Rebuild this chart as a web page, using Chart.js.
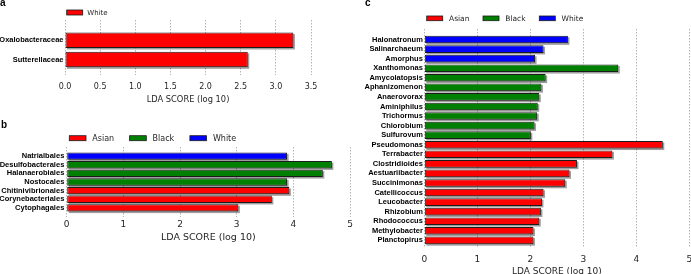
<!DOCTYPE html>
<html>
<head>
<meta charset="utf-8">
<script src="https://cdn.jsdelivr.net/npm/chart.js@4.4.1/dist/chart.umd.min.js"></script>
<style>
  html, body { margin: 0; padding: 0; background: #fff; }
  body { position: relative; width: 691px; height: 274px; overflow: hidden; }
  canvas { position: absolute; }
  .tag { position: absolute; font: bold 10px 'Liberation Sans', Arial, sans-serif; line-height: 10px; color: #000; }
</style>
</head>
<body>
<canvas id="chartA" width="345" height="110" style="left:0;top:0"></canvas>
<canvas id="chartB" width="360" height="140" style="left:0;top:110px"></canvas>
<canvas id="chartC" width="360" height="285" style="left:345px;top:0"></canvas>
<div class="tag" style="left:0px;top:-2px">a</div>
<div class="tag" style="left:1px;top:120px">b</div>
<div class="tag" style="left:365px;top:-2px">c</div>
<script>
// LEfSe-style LDA score bars, three panels.

const GROUPS = ['Asian', 'Black', 'White'];
const GROUP_COLOR = { Asian: '#ff0000', Black: '#008000', White: '#0000ff' };

// panel a (single class, drawn red, legend reads "White")
const aNames = ['Oxalobacteraceae', 'Sutterellaceae'];
const aScores = [3.25, 2.60];
const aLabel = 'White';
const aColor = '#ff0000';
const aTicks = [0, 0.5, 1, 1.5, 2, 2.5, 3, 3.5];

// panel b (orders)
const bNames = ['Natrialbales', 'Desulfobacterales', 'Halanaerobiales', 'Nostocales',
  'Chitinivibrionales', 'Corynebacteriales', 'Cytophagales'];
const bScores = [3.89, 4.68, 4.52, 3.89, 3.93, 3.62, 3.03];
const bGroups = ['White', 'Black', 'Black', 'Black', 'Asian', 'Asian', 'Asian'];
const bTicks = [0, 1, 2, 3, 4, 5];

// panel c (genera)
const cNames = ['Halonatronum', 'Salinarchaeum', 'Amorphus', 'Xanthomonas', 'Amycolatopsis',
  'Aphanizomenon', 'Anaerovorax', 'Aminiphilus', 'Trichormus', 'Chlorobium', 'Sulfurovum',
  'Pseudomonas', 'Terrabacter', 'Clostridioides', 'Aestuariibacter', 'Succinimonas',
  'Catellicoccus', 'Leucobacter', 'Rhizobium', 'Rhodococcus', 'Methylobacter', 'Planctopirus'];
const cScores = [2.71, 2.25, 2.09, 3.66, 2.29, 2.21, 2.17, 2.14, 2.13, 2.08, 2.01,
  4.50, 3.55, 2.88, 2.74, 2.66, 2.25, 2.22, 2.20, 2.17, 2.06, 2.06];
const cGroups = ['White', 'White', 'White', 'Black', 'Black', 'Black', 'Black', 'Black', 'Black', 'Black', 'Black',
  'Asian', 'Asian', 'Asian', 'Asian', 'Asian', 'Asian', 'Asian', 'Asian', 'Asian', 'Asian', 'Asian'];
const cTicks = [0, 1, 2, 3, 4, 5];

// grey drop shadow under each bar, like the matplotlib original
const barShadow = {
  id: 'barShadow',
  beforeDatasetsDraw(chart) {
    const ctx = chart.ctx;
    ctx.save();
    ctx.fillStyle = 'rgba(0,0,0,0.38)';
    chart.data.datasets.forEach((ds, i) => {
      chart.getDatasetMeta(i).data.forEach(bar => {
        const { x, y, base, height } = bar.getProps(['x', 'y', 'base', 'height'], true);
        ctx.fillRect(Math.min(x, base) + 1.5, y - height / 2 + 1.5, Math.abs(x - base), height);
      });
    });
    ctx.restore();
  }
};

// small legend row above the plot (boxes + labels from the datasets)
const legendRow = {
  id: 'legendRow',
  afterDraw(chart, args, o) {
    const ctx = chart.ctx;
    ctx.save();
    ctx.font = o.font;
    ctx.textBaseline = 'middle';
    chart.data.datasets.forEach((ds, i) => {
      const x = o.x + i * o.step;
      ctx.fillStyle = ds.backgroundColor;
      ctx.fillRect(x, o.y, o.boxW, o.boxH);
      ctx.strokeStyle = '#1b1b1b';
      ctx.lineWidth = 0.8;
      ctx.strokeRect(x, o.y, o.boxW, o.boxH);
      ctx.fillStyle = '#262626';
      ctx.fillText(ds.label, x + o.boxW + o.gap, o.y + o.boxH / 2 + 0.5);
    });
    ctx.restore();
  }
};

function groupDatasets(names, scores, groups) {
  return GROUPS.map(g => ({
    label: g,
    backgroundColor: GROUP_COLOR[g],
    data: names.map((n, i) => (groups[i] === g ? { x: scores[i], y: i } : null)).filter(Boolean)
  }));
}

function makePanel(id, p) {
  return new Chart(document.getElementById(id), {
    type: 'bar',
    data: { datasets: p.datasets },
    plugins: [barShadow, legendRow],
    options: {
      indexAxis: 'y',
      responsive: false,
      animation: false,
      layout: { padding: p.pad },
      datasets: {
        bar: {
          grouped: false,
          categoryPercentage: 1,
          barPercentage: p.barPct,
          borderWidth: 1,
          borderColor: '#1b1b1b',
          borderSkipped: false
        }
      },
      plugins: {
        legend: { display: false },
        tooltip: { enabled: false },
        legendRow: p.legend
      },
      scales: {
        x: {
          type: 'linear',
          min: 0,
          max: p.ticks[p.ticks.length - 1],
          afterFit: s => { s.height = p.xHeight; },
          afterBuildTicks: s => { s.ticks = p.ticks.map(v => ({ value: v })); },
          border: { display: false, dash: [1.5, 1.5] },
          grid: { color: '#b4b4b4', drawTicks: false },
          ticks: {
            font: { family: 'DejaVu Sans', size: p.tickSize },
            color: '#262626',
            padding: p.tickPad,
            maxRotation: 0,
            autoSkip: false,
            callback: v => v.toFixed(p.digits)
          },
          title: {
            display: true,
            text: 'LDA SCORE (log 10)',
            font: { family: 'DejaVu Sans', size: p.titleSize },
            color: '#262626',
            padding: { top: 0, bottom: p.titlePad }
          }
        },
        y: {
          type: 'linear',
          reverse: true,
          offset: false,
          min: p.yMin,
          max: p.yMax,
          afterFit: s => { s.width = p.yWidth; },
          afterBuildTicks: s => { s.ticks = p.names.map((n, i) => ({ value: i })); },
          border: { display: false },
          grid: { display: false, drawTicks: false },
          ticks: {
            font: { family: 'Liberation Sans', size: 7.5, weight: 'bold' },
            color: '#000',
            padding: p.labelPad,
            autoSkip: false,
            callback: v => p.names[v]
          }
        }
      }
    }
  });
}

makePanel('chartA', {
  names: aNames,
  datasets: [{ label: aLabel, backgroundColor: aColor, data: aNames.map((n, i) => ({ x: aScores[i], y: i })) }],
  ticks: aTicks, digits: 1,
  pad: { left: 0, right: 34, top: 20, bottom: 0 },
  yWidth: 65, xHeight: 35, yMin: -1.05, yMax: 1.8, barPct: 0.8,
  tickSize: 8, tickPad: 7.5, titleSize: 8.3, titlePad: 5.5, labelPad: 1.5,
  legend: { x: 66.7, y: 10, boxW: 16, boxH: 5, gap: 4.6, step: 60, font: "7px 'DejaVu Sans'" }
});

makePanel('chartB', {
  names: bNames,
  datasets: groupDatasets(bNames, bScores, bGroups),
  ticks: bTicks, digits: 0,
  pad: { left: 0, right: 10, top: 37, bottom: 0 },
  yWidth: 66.7, xHeight: 33, yMin: -1.05, yMax: 7.05, barPct: 0.85,
  tickSize: 9, tickPad: 2.6, titleSize: 9.5, titlePad: 7.2, labelPad: 2.4,
  legend: { x: 69.3, y: 25.7, boxW: 16.7, boxH: 5, gap: 6.3, step: 60.3, font: "8px 'DejaVu Sans'" }
});

makePanel('chartC', {
  names: cNames,
  datasets: groupDatasets(cNames, cScores, cGroups),
  ticks: cTicks, digits: 0,
  pad: { left: 0, right: 15.7, top: 29, bottom: 0 },
  yWidth: 79.3, xHeight: 37, yMin: -1.1, yMax: 21.8, barPct: 0.8,
  tickSize: 9, tickPad: 6, titleSize: 9, titlePad: 8.3, labelPad: 1.5,
  legend: { x: 81.7, y: 16, boxW: 16, boxH: 4.7, gap: 6.3, step: 56.3, font: "7.5px 'DejaVu Sans'" }
});
</script>
</body>
</html>
